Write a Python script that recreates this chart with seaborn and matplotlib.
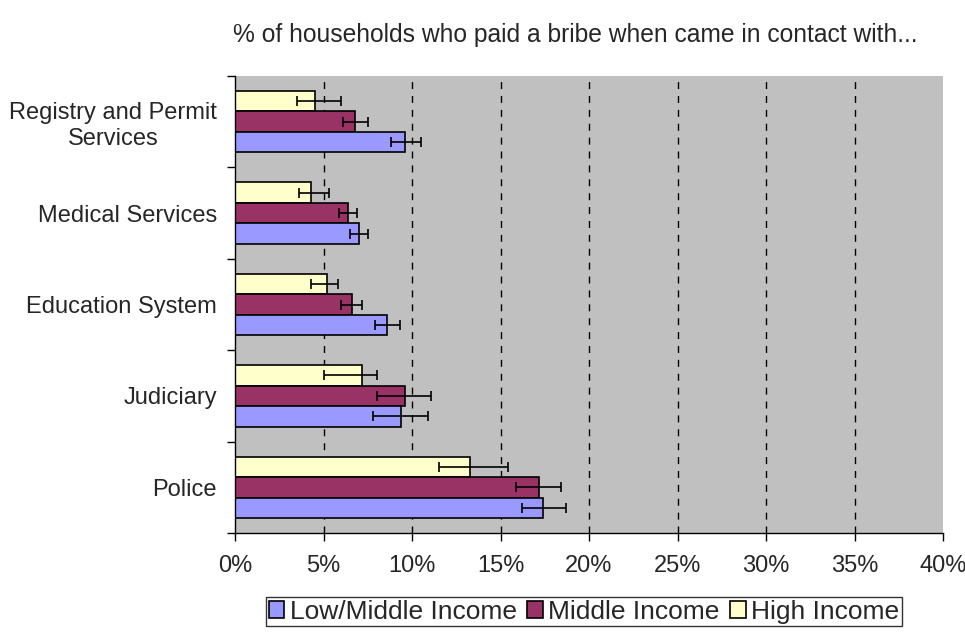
import numpy as np
import pandas as pd
import seaborn as sns
from matplotlib import pyplot as plt

# data (percent)
categories = ["Registry and Permit\nServices", "Medical Services", "Education System",
              "Judiciary", "Police"]
groups = ["Low/Middle Income", "Middle Income", "High Income"]

low_mid = [9.6, 7.0, 8.6, 9.4, 17.4]
low_mid_lo = [8.8, 6.5, 7.9, 7.8, 16.2]
low_mid_hi = [10.5, 7.5, 9.3, 10.9, 18.7]

middle = [6.8, 6.4, 6.6, 9.6, 17.2]
middle_lo = [6.1, 5.9, 6.0, 8.0, 15.9]
middle_hi = [7.5, 6.9, 7.2, 11.1, 18.4]

high = [4.5, 4.3, 5.2, 7.2, 13.3]
high_lo = [3.5, 3.6, 4.3, 5.0, 11.5]
high_hi = [6.0, 5.3, 5.8, 8.0, 15.4]

colors = {"Low/Middle Income": "#9999FF", "Middle Income": "#993366", "High Income": "#FFFFCC"}

values = {"Low/Middle Income": (low_mid, low_mid_lo, low_mid_hi),
          "Middle Income": (middle, middle_lo, middle_hi),
          "High Income": (high, high_lo, high_hi)}

rows = []
for g in groups:
    for cat, v in zip(categories, values[g][0]):
        rows.append({"category": cat, "group": g, "value": v})
df = pd.DataFrame(rows)

sns.set_style("white")
plt.rcParams['font.family'] = ['Liberation Sans', 'DejaVu Sans']

fig = plt.figure(figsize=(9.65, 6.32), dpi=100)
ax = fig.add_axes([235 / 965, 1 - 533 / 632, (943 - 235) / 965, (533 - 76) / 632])

# top-to-bottom order inside a group: High, Middle, Low/Middle
draw_order = ["High Income", "Middle Income", "Low/Middle Income"]
sns.barplot(data=df, y="category", x="value", hue="group", hue_order=draw_order,
            order=categories, orient="h", palette=colors, saturation=1, width=0.67,
            edgecolor="black", linewidth=1.2, errorbar=None, ax=ax, zorder=3)

# error bars placed on the bars seaborn drew
for g, cont in zip(draw_order, ax.containers):
    v, lo, hi = values[g]
    ys = [p.get_y() + p.get_height() / 2 for p in cont.patches]
    v = np.array(v)
    err = np.vstack([v - np.array(lo), np.array(hi) - v])
    ax.errorbar(v, ys, xerr=err, fmt="none", ecolor="black", elinewidth=1.2,
                capsize=3.5, capthick=1.2, zorder=4)

ax.set_facecolor("#C0C0C0")
ax.set_xlim(0, 40)
ax.set_ylim(len(categories) - 0.5, -0.5)
ax.set_xticks(np.arange(0, 41, 5))
ax.set_xticklabels([f"{t}%" for t in range(0, 41, 5)], fontsize=17)
ax.set_yticks(range(len(categories)))
ax.set_yticklabels(categories, fontsize=17, multialignment="center")
ax.set_yticks(np.arange(-0.5, len(categories), 1), minor=True)
ax.tick_params(axis="y", which="major", length=0, pad=13)
ax.tick_params(axis="y", which="minor", length=6, width=1, color="black", direction="out", left=True)
ax.tick_params(axis="x", length=6, width=1, color="black", direction="out", bottom=True, pad=10)
ax.set_xlabel("")
ax.set_ylabel("")

for x in range(5, 40, 5):
    ax.axvline(x, color="black", linewidth=1, linestyle=(0, (5, 5)), zorder=1)

for s in ["top", "right"]:
    ax.spines[s].set_visible(False)
for s in ["left", "bottom"]:
    ax.spines[s].set_color("black")
    ax.spines[s].set_linewidth(1)
    ax.spines[s].set_zorder(5)

handles, labels = ax.get_legend_handles_labels()
ax.legend_.remove()
order = [labels.index(g) for g in groups]
leg = fig.legend([handles[i] for i in order], [labels[i] for i in order],
                 loc="upper center", bbox_to_anchor=(584 / 965, 1 - 597 / 632), ncol=3,
                 fontsize=19, frameon=True, fancybox=False, edgecolor="black",
                 handlelength=0.6, handleheight=0.6, handletextpad=0.2,
                 columnspacing=0.4, borderpad=0.1, borderaxespad=0)
leg.get_frame().set_linewidth(1)

fig.text(575 / 965, 1 - 35 / 632, "% of households who paid a bribe when came in contact with...",
         ha="center", va="center", fontsize=17.7)

fig.savefig("out.png", dpi=100)
